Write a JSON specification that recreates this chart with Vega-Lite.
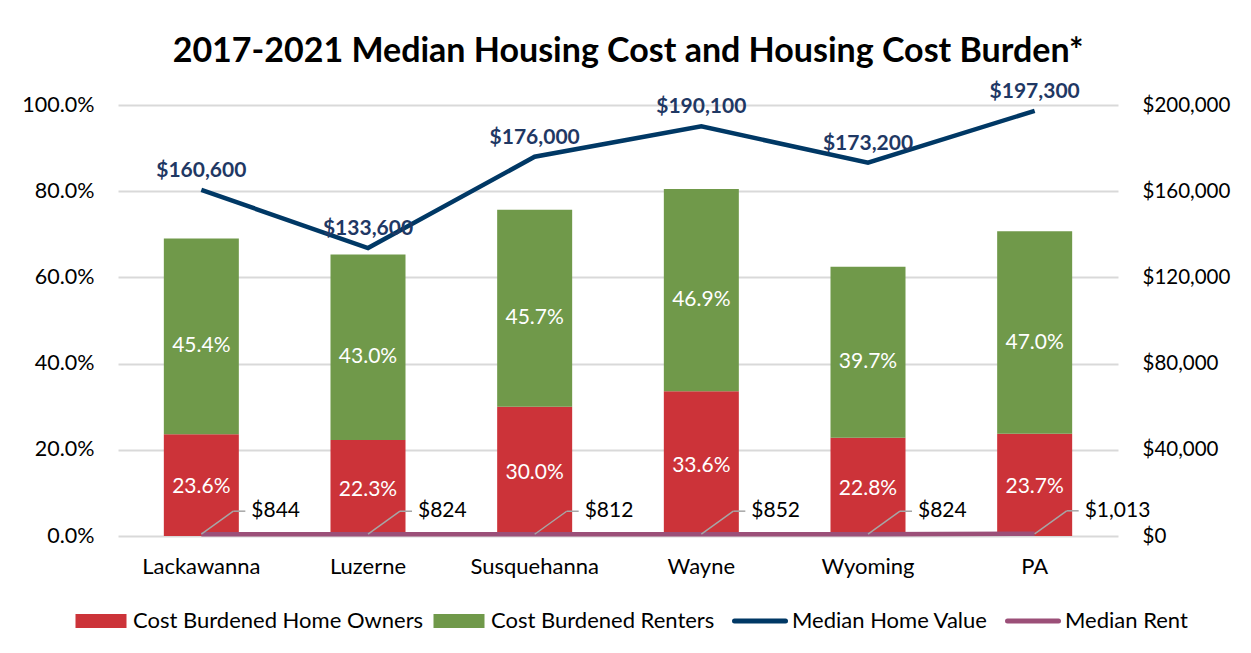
{
  "$schema": "https://vega.github.io/schema/vega-lite/v6.json",
  "width": 1000,
  "height": 431,
  "autosize": {"type": "none"},
  "padding": {"left": 118, "top": 105, "right": 133, "bottom": 117},
  "background": "white",
  "config": {"font": "Lato", "view": {"stroke": null}},
  "title": {"text": "2017-2021 Median Housing Cost and Housing Cost Burden*", "fontSize": 34, "font": "Lato", "fontWeight": "bold", "color": "black", "offset": 12, "anchor": "middle", "dx": 10},
  "datasets": {
    "bars": [
      {"County": "Lackawanna", "Type": "Cost Burdened Home Owners", "Pct": 0.236},
      {"County": "Lackawanna", "Type": "Cost Burdened Renters", "Pct": 0.454},
      {"County": "Luzerne", "Type": "Cost Burdened Home Owners", "Pct": 0.223},
      {"County": "Luzerne", "Type": "Cost Burdened Renters", "Pct": 0.430},
      {"County": "Susquehanna", "Type": "Cost Burdened Home Owners", "Pct": 0.300},
      {"County": "Susquehanna", "Type": "Cost Burdened Renters", "Pct": 0.457},
      {"County": "Wayne", "Type": "Cost Burdened Home Owners", "Pct": 0.336},
      {"County": "Wayne", "Type": "Cost Burdened Renters", "Pct": 0.469},
      {"County": "Wyoming", "Type": "Cost Burdened Home Owners", "Pct": 0.228},
      {"County": "Wyoming", "Type": "Cost Burdened Renters", "Pct": 0.397},
      {"County": "PA", "Type": "Cost Burdened Home Owners", "Pct": 0.237},
      {"County": "PA", "Type": "Cost Burdened Renters", "Pct": 0.470}
    ],
    "lines": [
      {"County": "Lackawanna", "Median Home Value": 160600, "Median Rent": 844},
      {"County": "Luzerne", "Median Home Value": 133600, "Median Rent": 824},
      {"County": "Susquehanna", "Median Home Value": 176000, "Median Rent": 812},
      {"County": "Wayne", "Median Home Value": 190100, "Median Rent": 852},
      {"County": "Wyoming", "Median Home Value": 173200, "Median Rent": 824},
      {"County": "PA", "Median Home Value": 197300, "Median Rent": 1013}
    ]
  },
  "encoding": {
    "x": {
      "field": "County", "type": "nominal",
      "sort": ["Lackawanna", "Luzerne", "Susquehanna", "Wayne", "Wyoming", "PA"],
      "scale": {"paddingInner": 0.55, "paddingOuter": 0.275},
      "axis": {"title": null, "labelAngle": 0, "labelFontSize": 22, "labelColor": "black", "domain": false, "ticks": false, "labelPadding": 20}
    }
  },
  "layer": [
    {
      "data": {"name": "bars"},
      "layer": [
        {
          "mark": {"type": "bar"},
          "encoding": {
            "y": {"field": "Pct", "type": "quantitative", "stack": "zero", "scale": {"domain": [0, 1]},
              "axis": {"title": null, "values": [0, 0.2, 0.4, 0.6, 0.8, 1], "format": ".1%", "labelFontSize": 21.5, "labelColor": "black", "domain": false, "ticks": false, "labelPadding": 24, "grid": true, "gridColor": "#D9D9D9", "gridWidth": 2}},
            "color": {
              "field": "Type", "type": "nominal",
              "scale": {"domain": ["Cost Burdened Home Owners", "Cost Burdened Renters", "Median Home Value", "Median Rent"], "range": ["#CC3339", "#70994A", "#003865", "#9B4F78"]},
              "legend": {
                "title": null, "orient": "none", "legendX": -28, "legendY": 505, "direction": "horizontal",
                "labelFontSize": 22, "labelColor": "black", "labelFont": "Lato", "labelOffset": 21, "columnPadding": 9,
                "symbolSize": 2601, "labelLimit": 400,
                "encode": {
                  "symbols": {
                    "update": {
                      "shape": {"signal": "(datum.value == 'Median Home Value' || datum.value == 'Median Rent') ? 'stroke' : 'M-1,-0.27H1V0.27H-1Z'"},
                      "strokeWidth": {"signal": "(datum.value == 'Median Home Value' || datum.value == 'Median Rent') ? 5 : 0"},
                      "strokeCap": {"value": "round"},
                      "fill": {"scale": "color", "field": "value"},
                      "stroke": {"scale": "color", "field": "value"},
                      "opacity": {"value": 1},
                      "fillOpacity": {"value": 1},
                      "strokeOpacity": {"value": 1}
                    }
                  }
                }
              }
            },
            "order": {"field": "Type"}
          }
        },
        {
          "transform": [
            {"stack": "Pct", "groupby": ["County"], "sort": [{"field": "Type"}], "as": ["p0", "p1"]},
            {"calculate": "(datum.p0 + datum.p1) / 2", "as": "pm"},
            {"filter": "datum.Type == 'Cost Burdened Home Owners'"}
          ],
          "mark": {"type": "text", "color": "white", "fontSize": 21, "dy": 2},
          "encoding": {
            "y": {"field": "pm", "type": "quantitative"},
            "text": {"field": "Pct", "type": "quantitative", "format": ".1%"}
          }
        },
        {
          "transform": [
            {"stack": "Pct", "groupby": ["County"], "sort": [{"field": "Type"}], "as": ["p0", "p1"]},
            {"calculate": "(datum.p0 + datum.p1) / 2", "as": "pm"},
            {"filter": "datum.Type == 'Cost Burdened Renters'"}
          ],
          "mark": {"type": "text", "color": "white", "fontSize": 21, "dy": 10},
          "encoding": {
            "y": {"field": "pm", "type": "quantitative"},
            "text": {"field": "Pct", "type": "quantitative", "format": ".1%"}
          }
        }
      ]
    },
    {
      "data": {"name": "lines"},
      "layer": [
        {
          "transform": [{"fold": ["Median Home Value", "Median Rent"], "as": ["Type", "val"]}],
          "mark": {"type": "line", "strokeWidth": 4.5},
          "encoding": {
            "y": {"field": "val", "type": "quantitative", "scale": {"domain": [0, 200000]},
              "axis": {"title": null, "orient": "right", "values": [0, 40000, 80000, 120000, 160000, 200000], "format": "$,d", "labelFontSize": 20.5, "labelColor": "black", "domain": false, "ticks": false, "labelPadding": 24, "grid": false}},
            "color": {"field": "Type", "type": "nominal"}
          }
        },
        {
          "mark": {"type": "text", "fontSize": 21, "fontWeight": "bold", "color": "#1F3864", "dy": -19},
          "encoding": {
            "y": {"field": "Median Home Value", "type": "quantitative"},
            "text": {"field": "Median Home Value", "type": "quantitative", "format": "$,d"}
          }
        },
        {
          "mark": {"type": "rule", "color": "#A6A6A6", "strokeWidth": 1.5, "x2Offset": 32, "y2Offset": -23},
          "encoding": {
            "y": {"field": "Median Rent", "type": "quantitative"},
            "x2": {"field": "County"},
            "y2": {"field": "Median Rent"}
          }
        },
        {
          "mark": {"type": "rule", "color": "#A6A6A6", "strokeWidth": 1.5, "xOffset": 32, "x2Offset": 44, "yOffset": -23},
          "encoding": {
            "y": {"field": "Median Rent", "type": "quantitative"},
            "x2": {"field": "County"}
          }
        },
        {
          "mark": {"type": "text", "fontSize": 21, "color": "black", "align": "left", "dx": 50, "dy": -23},
          "encoding": {
            "y": {"field": "Median Rent", "type": "quantitative"},
            "text": {"field": "Median Rent", "type": "quantitative", "format": "$,d"}
          }
        }
      ]
    }
  ],
  "resolve": {"scale": {"y": "independent"}}
}
